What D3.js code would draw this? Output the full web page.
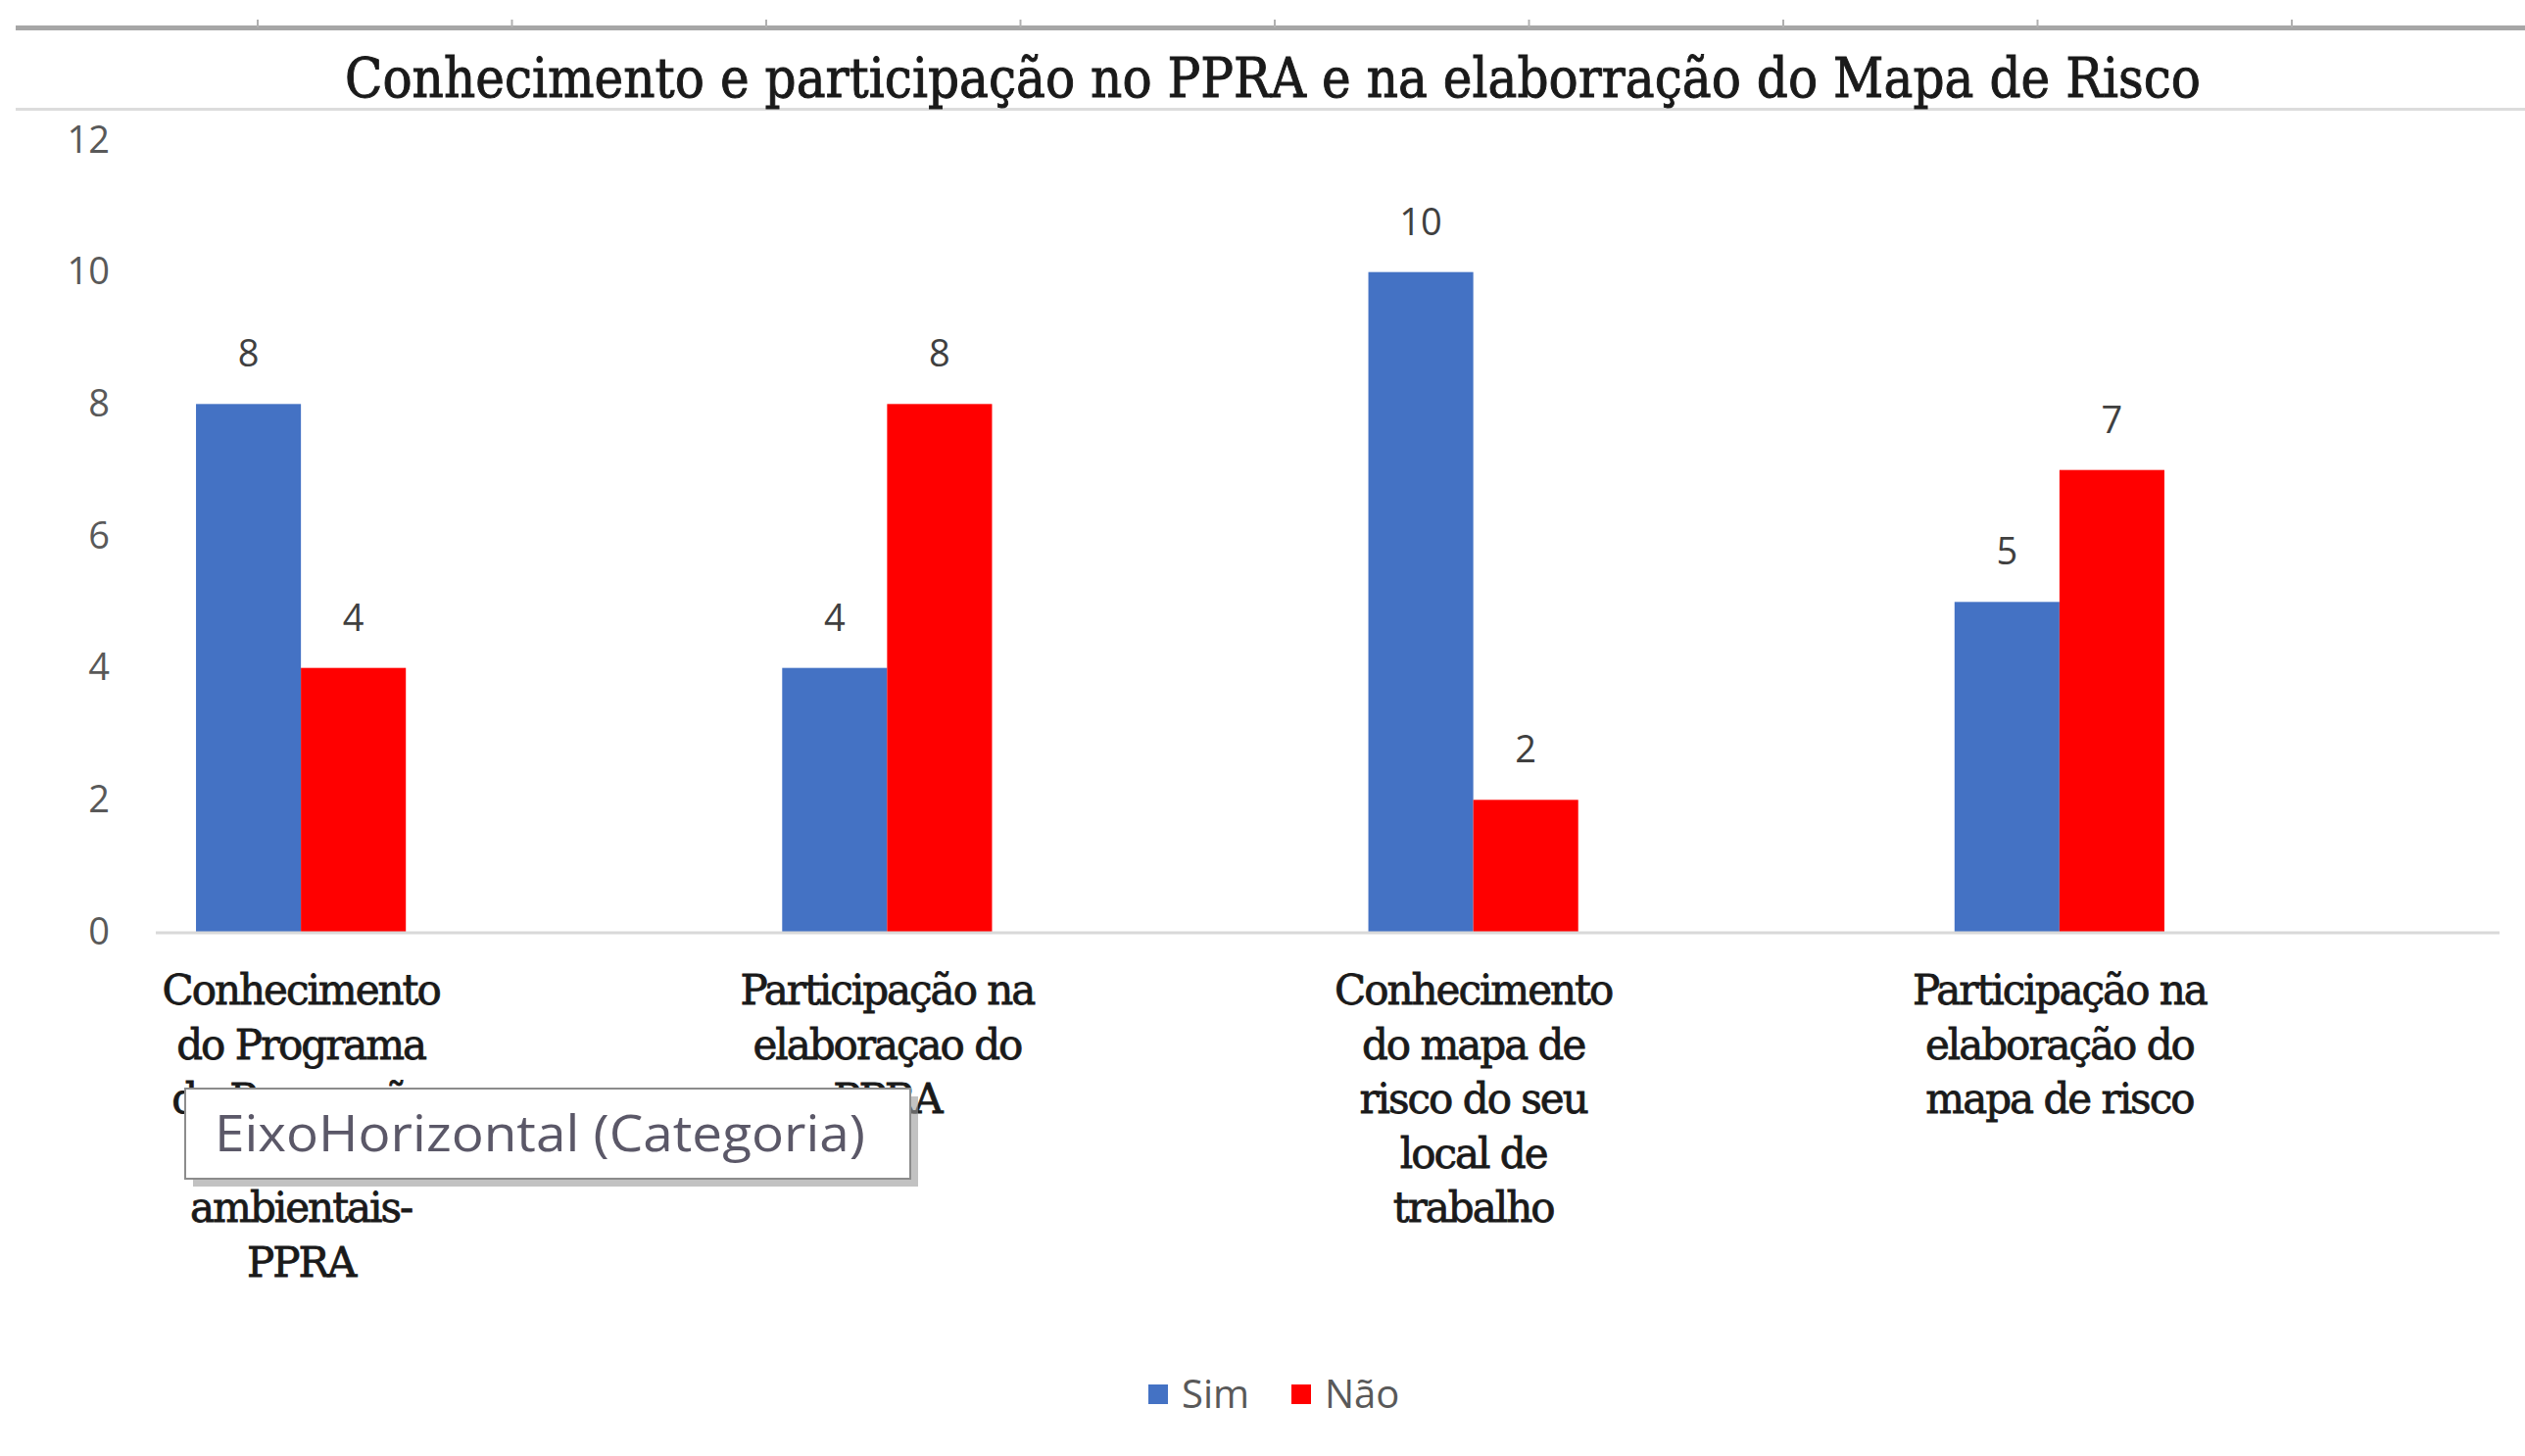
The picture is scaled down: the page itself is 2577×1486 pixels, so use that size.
<!DOCTYPE html>
<html lang="pt">
<head>
    <meta charset="UTF-8">
    <title>Conhecimento e participação no PPRA</title>
    <script type="text/javascript" src="https://cdn.jsdelivr.net/npm/d3@7"></script>
    <style>
        body { margin: 0; background: #fff; }
        svg { display: block; }
    </style>
</head>
<body>
    <script type="text/javascript">
        var categories = [
            ["Conhecimento", "do Programa", "de Prevenção", "de Riscos", "ambientais-", "PPRA"],
            ["Participação na", "elaboraçao do", "PPRA"],
            ["Conhecimento", "do mapa de", "risco do seu", "local de", "trabalho"],
            ["Participação na", "elaboração do", "mapa de risco"]
        ];
        var series = ["Sim", "Não"];
        var sim = [8, 4, 10, 5];
        var nao = [4, 8, 2, 7];
        var yTicks = [0, 2, 4, 6, 8, 10, 12];
        var title = "Conhecimento e participação no PPRA e na elaborração do Mapa de Risco";
        var tooltipText = "EixoHorizontal (Categoria)";

        var w = 2577, h = 1486;
        var colors = { "Sim": "#4472C4", "Não": "#FF0000" };

        var svg = d3.select("body").append("svg")
            .attr("width", w)
            .attr("height", h);

        // spreadsheet borders behind the chart
        svg.append("rect")
            .attr("x", 16).attr("y", 26).attr("width", w - 16).attr("height", 5)
            .attr("fill", "#a6a6a6");
        svg.selectAll("line.col")
            .data(d3.range(263, w, 259.5))
            .enter()
            .append("line")
            .attr("class", "col")
            .attr("x1", function(d) { return d; })
            .attr("x2", function(d) { return d; })
            .attr("y1", 20).attr("y2", 28)
            .attr("stroke", "#b0b0b0").attr("stroke-width", 2);
        svg.append("rect")
            .attr("x", 16).attr("y", 110).attr("width", w - 16).attr("height", 3)
            .attr("fill", "#dcdcdc");

        svg.append("text")
            .attr("x", 352)
            .attr("y", 99)
            .attr("textLength", 1894)
            .attr("lengthAdjust", "spacingAndGlyphs")
            .style("font-family", "'DejaVu Serif', serif")
            .style("font-size", "56px")
            .attr("fill", "#1a1a1a")
            .attr("stroke", "#1a1a1a")
            .attr("stroke-width", 1)
            .text(title);

        var data = categories.map(function(c, i) {
            return { i: i, lines: c, values: [sim[i], nao[i]] };
        });

        var xScale = d3.scaleBand()
            .domain(d3.range(categories.length))
            .range([8, 2401])
            .paddingInner(0.642)
            .paddingOuter(0.321);

        var xInner = d3.scaleBand()
            .domain(series)
            .range([0, xScale.bandwidth()]);

        var yScale = d3.scaleLinear()
            .domain([0, 12])
            .range([951, 143]);

        // y axis labels only
        var yAxis = svg.append("g")
            .attr("transform", "translate(112,0)")
            .call(d3.axisLeft(yScale).tickValues(yTicks).tickSize(0).tickPadding(0));
        yAxis.select(".domain").remove();
        yAxis.selectAll("text")
            .style("font-family", "'Open Sans', sans-serif")
            .style("font-size", "38px")
            .attr("fill", "#595959");

        var groups = svg.selectAll("g.grp")
            .data(data)
            .enter()
            .append("g")
            .attr("class", "grp")
            .attr("transform", function(d) { return "translate(" + xScale(d.i) + ",0)"; });

        groups.selectAll("rect")
            .data(function(d) { return d.values.map(function(v, k) { return { s: series[k], v: v }; }); })
            .enter()
            .append("rect")
            .attr("x", function(d) { return xInner(d.s); })
            .attr("y", function(d) { return yScale(d.v); })
            .attr("width", xInner.bandwidth())
            .attr("height", function(d) { return yScale(0) - yScale(d.v); })
            .attr("fill", function(d) { return colors[d.s]; });

        groups.selectAll("text.val")
            .data(function(d) { return d.values.map(function(v, k) { return { s: series[k], v: v }; }); })
            .enter()
            .append("text")
            .attr("class", "val")
            .attr("x", function(d) { return xInner(d.s) + xInner.bandwidth() / 2; })
            .attr("y", function(d) { return yScale(d.v) - 38; })
            .attr("text-anchor", "middle")
            .style("font-family", "'Open Sans', sans-serif")
            .style("font-size", "38px")
            .attr("fill", "#404040")
            .text(function(d) { return d.v; });

        // category axis line
        svg.append("line")
            .attr("x1", 159).attr("x2", 2551)
            .attr("y1", yScale(0) + 1).attr("y2", yScale(0) + 1)
            .attr("stroke", "#d9d9d9").attr("stroke-width", 3);

        groups.selectAll("text.cat")
            .data(function(d) { return d.lines; })
            .enter()
            .append("text")
            .attr("class", "cat")
            .attr("x", xScale.bandwidth() / 2)
            .attr("y", function(d, k) { return 1025 + k * 55.6; })
            .attr("text-anchor", "middle")
            .style("font-family", "'DejaVu Serif', serif")
            .style("font-size", "42px")
            .style("letter-spacing", "-2px")
            .attr("fill", "#1a1a1a")
            .attr("stroke", "#1a1a1a")
            .attr("stroke-width", 0.8)
            .text(function(d) { return d; });

        // legend
        var legend = svg.append("g").attr("transform", "translate(1172,1423)");
        var lx = [0, 146];
        series.forEach(function(s, k) {
            legend.append("rect")
                .attr("x", lx[k]).attr("y", -10)
                .attr("width", 20).attr("height", 20)
                .attr("fill", colors[s]);
            legend.append("text")
                .attr("x", lx[k] + 34).attr("y", 14)
                .style("font-family", "'Open Sans', sans-serif")
                .style("font-size", "40px")
                .attr("fill", "#595959")
                .text(s);
        });

        // hover tooltip left on the category axis
        var tip = svg.append("g");
        tip.append("rect")
            .attr("x", 197).attr("y", 1119).attr("width", 740).attr("height", 92)
            .attr("fill", "#9a9a9a").attr("opacity", 0.6);
        tip.append("rect")
            .attr("x", 189).attr("y", 1111).attr("width", 740).attr("height", 92)
            .attr("fill", "#fff").attr("stroke", "#8c8c8c").attr("stroke-width", 2);
        tip.append("text")
            .attr("x", 219).attr("y", 1175)
            .attr("textLength", 664)
            .attr("lengthAdjust", "spacingAndGlyphs")
            .style("font-family", "'Open Sans', sans-serif")
            .style("font-size", "52px")
            .attr("fill", "#5b5868")
            .text(tooltipText);
    </script>
</body>
</html>
